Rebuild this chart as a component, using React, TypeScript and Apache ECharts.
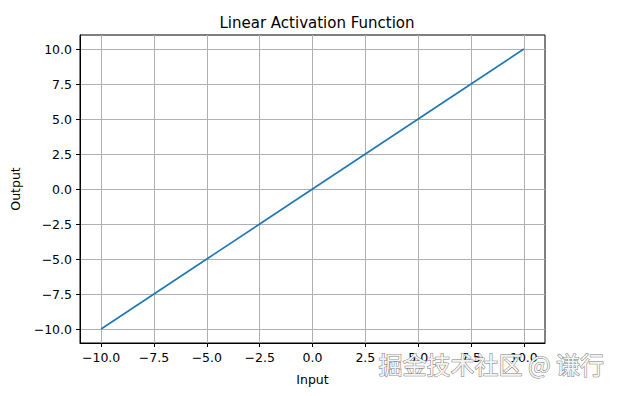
import React, { useEffect, useRef } from "react";
import * as echarts from "echarts";

const inputs = [-10, -7.5, -5, -2.5, 0, 2.5, 5, 7.5, 10];
const outputs = [-10, -7.5, -5, -2.5, 0, 2.5, 5, 7.5, 10];
const xTicks = [-10, -7.5, -5, -2.5, 0, 2.5, 5, 7.5, 10];
const yTicks = [-10, -7.5, -5, -2.5, 0, 2.5, 5, 7.5, 10];
const titleText = "Linear Activation Function";
const xLabel = "Input";
const yLabel = "Output";
const watermark = "掘金技术社区 @ 谦行";

const FONT = "DejaVu Sans";

export default function App() {
  const ref = useRef<HTMLDivElement>(null);
  useEffect(() => {
    if (!ref.current) return;
    const chart = echarts.init(ref.current, null, { renderer: "svg" });
    const axisCommon = {
      min: -11,
      max: 11,
      axisLine: { show: true, onZero: false, lineStyle: { color: "#000", width: 1 } },
      splitLine: { show: true, lineStyle: { color: "#b0b0b0", width: 1 } },
    };
    chart.setOption({
      animation: false,
      backgroundColor: "#fff",
      title: {
        text: titleText,
        left: 312,
        textAlign: "center",
        top: 10,
        textStyle: { fontFamily: FONT, fontSize: 15, fontWeight: "normal", color: "#000" },
      },
      grid: {
        left: 80,
        top: 35,
        right: 83,
        bottom: 53,
        show: true,
        borderColor: "#000",
        borderWidth: 1,
        backgroundColor: "transparent",
      },
      xAxis: {
        type: "value",
        ...axisCommon,
        name: xLabel,
        nameLocation: "middle",
        nameGap: 30,
        nameTextStyle: { fontFamily: FONT, fontSize: 12.5, color: "#000" },
        axisTick: { show: true, inside: false, length: 4, customValues: xTicks, lineStyle: { color: "#000" } },
        axisLabel: {
          customValues: xTicks,
          margin: 8,
          fontFamily: FONT,
          fontSize: 12.5,
          color: "#000",
          formatter: (v: number) => (v < 0 ? "\u2212" + Math.abs(v).toFixed(1) : v.toFixed(1)),
        },
      },
      yAxis: {
        type: "value",
        ...axisCommon,
        name: yLabel,
        nameLocation: "middle",
        nameGap: 58,
        nameTextStyle: { fontFamily: FONT, fontSize: 12.5, color: "#000" },
        axisTick: { show: true, inside: false, length: 4, customValues: yTicks, lineStyle: { color: "#000" } },
        axisLabel: {
          customValues: yTicks,
          margin: 8,
          fontFamily: FONT,
          fontSize: 12.5,
          color: "#000",
          formatter: (v: number) => (v < 0 ? "\u2212" + Math.abs(v).toFixed(1) : v.toFixed(1)),
        },
      },
      series: [
        {
          type: "line",
          data: inputs.map((x, i) => [x, outputs[i]]),
          showSymbol: false,
          lineStyle: { color: "#1f77b4", width: 1.6 },
          itemStyle: { color: "#1f77b4" },
        },
      ],
      graphic: [
        {
          type: "text",
          left: 378,
          top: 351,
          z: 100,
          style: {
            text: watermark,
            fontFamily: "Noto Sans CJK SC",
            fontSize: 24,
            fill: "#f4f4f4",
            stroke: "#7a7a7a",
            lineWidth: 1,
          },
        },
      ],
    });
    return () => chart.dispose();
  }, []);
  return <div ref={ref} style={{ width: 628, height: 396, position: "absolute", left: 0, top: 0 }} />;
}
